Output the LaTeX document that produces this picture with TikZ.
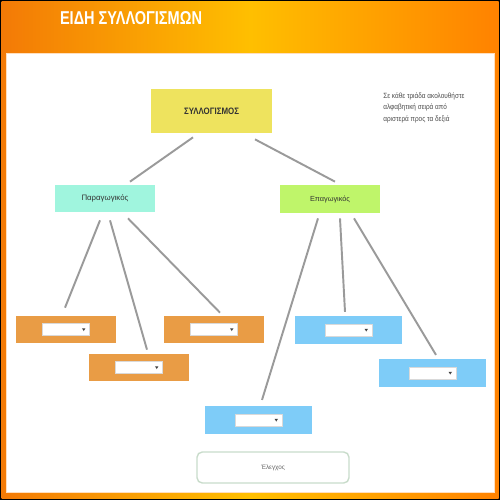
\documentclass[tikz,border=0pt]{standalone}
\usepackage{fontspec}
\setmainfont{Liberation Sans}
\definecolor{orL}{HTML}{F37A06}
\definecolor{orM}{HTML}{FFBF00}
\definecolor{orR}{HTML}{FF8200}
\definecolor{sylc}{HTML}{EEE35E}
\definecolor{parc}{HTML}{A0F5DE}
\definecolor{epac}{HTML}{BFF56A}
\definecolor{oran}{HTML}{E99C45}
\definecolor{blu}{HTML}{7ECCF8}
\definecolor{linec}{HTML}{9A9A9A}
\definecolor{txtc}{HTML}{333333}
\definecolor{btnb}{HTML}{C9DCCB}
\begin{document}
\begin{tikzpicture}[x=0.02cm,y=-0.02cm,
  box/.style={rectangle, inner sep=0pt, draw=none, text=txtc},
  obox/.style={box, fill=oran, minimum width=2cm, minimum height=0.54cm},
  bbox/.style={box, fill=blu, minimum width=2.14cm, minimum height=0.55cm},
  conn/.style={draw=linec, line width=1.1pt},
  dd/.style={rectangle, draw=black!15, line width=0.3pt, fill=white, inner sep=0pt,
    minimum width=0.94cm, minimum height=0.24cm,
    path picture={\fill[black!75] ([xshift=-0.15cm,yshift=0.025cm]path picture bounding box.east) -- ++(0.07cm,0) -- ++(-0.035cm,-0.055cm) -- cycle;}}]
\useasboundingbox (0,0) rectangle (500,500);
% frame
\fill[black] (0,0) rectangle (500,500);
\shade[left color=orL, right color=orR, middle color=orM] (1.5,1.5) rectangle (498.5,498.5);
\filldraw[fill=white, draw=orange!25, line width=0.5pt] (6,53) rectangle (494,492);
% title
\node[inner sep=0pt, text=white] (title) at (131,18.5) {\resizebox{2.84cm}{0.26cm}{\bfseries ΕΙΔΗ ΣΥΛΛΟΓΙΣΜΩΝ}};
% instruction text
\node[anchor=north west, align=left, inner sep=0pt, text=black!70,
  font=\fontsize{4.3pt}{6.8pt}\selectfont] (instr) at (383,92)
  {\scalebox{0.85}[1]{Σε κάθε τριάδα ακολουθήστε}\\
   \scalebox{0.85}[1]{αλφαβητική σειρά από}\\
   \scalebox{0.85}[1]{αριστερά προς τα δεξιά}};
% main nodes
\node[box, fill=sylc, minimum width=2.42cm, minimum height=0.88cm] (syl) at (211.5,111)
  {\resizebox{1.1cm}{0.13cm}{\bfseries ΣΥΛΛΟΓΙΣΜΟΣ}};
\node[box, fill=parc, minimum width=2cm, minimum height=0.54cm] (par) at (105,198.5)
  {\resizebox{0.94cm}{!}{Παραγωγικός}};
\node[box, fill=epac, minimum width=2cm, minimum height=0.56cm] (epa) at (330,199)
  {\resizebox{0.8cm}{!}{Επαγωγικός}};
% answer boxes
\node[obox] (o1) at (66,329.5) {};
\node[obox] (o2) at (139,367.5) {};
\node[obox] (o3) at (214,329.5) {};
\node[bbox] (b4) at (348.5,330) {};
\node[bbox] (b5) at (432.5,373) {};
\node[bbox] (b6) at (258.5,420) {};
\node[dd] (d1) at (o1) {};
\node[dd] (d2) at (o2) {};
\node[dd] (d3) at (o3) {};
\node[dd] (d4) at (b4) {};
\node[dd] (d5) at (b5) {};
\node[dd] (d6) at (b6) {};
% check button
\node[draw=btnb, line width=0.8pt, rounded corners=3pt, fill=white, text=black!60,
  minimum width=3.04cm, minimum height=0.62cm, inner sep=0pt] (btn) at (273,467.5)
  {\resizebox{0.48cm}{!}{Έλεγχος}};
% connectors
\draw[conn] ([xshift=-0.37cm,yshift=-0.08cm]syl.south) -- ([xshift=0.5cm,yshift=0.06cm]par.north);
\draw[conn] ([xshift=0.87cm,yshift=-0.12cm]syl.south) -- ([xshift=0.1cm,yshift=0.06cm]epa.north);
\draw[conn] ([xshift=-0.1cm,yshift=-0.16cm]par.south) -- ([xshift=-0.02cm,yshift=0.16cm]o1.north);
\draw[conn] ([xshift=0.1cm,yshift=-0.16cm]par.south) -- ([xshift=0.16cm,yshift=0.08cm]o2.north);
\draw[conn] ([xshift=0.46cm,yshift=-0.12cm]par.south) -- ([xshift=0.12cm,yshift=0.06cm]o3.north);
\draw[conn] ([xshift=-0.24cm,yshift=-0.1cm]epa.south) -- ([xshift=0.07cm,yshift=0.12cm]b6.north);
\draw[conn] ([xshift=0.2cm,yshift=-0.1cm]epa.south) -- ([xshift=-0.07cm,yshift=0.08cm]b4.north);
\draw[conn] ([xshift=0.48cm,yshift=-0.1cm]epa.south) -- ([xshift=0.07cm,yshift=0.08cm]b5.north);
\end{tikzpicture}
\end{document}
